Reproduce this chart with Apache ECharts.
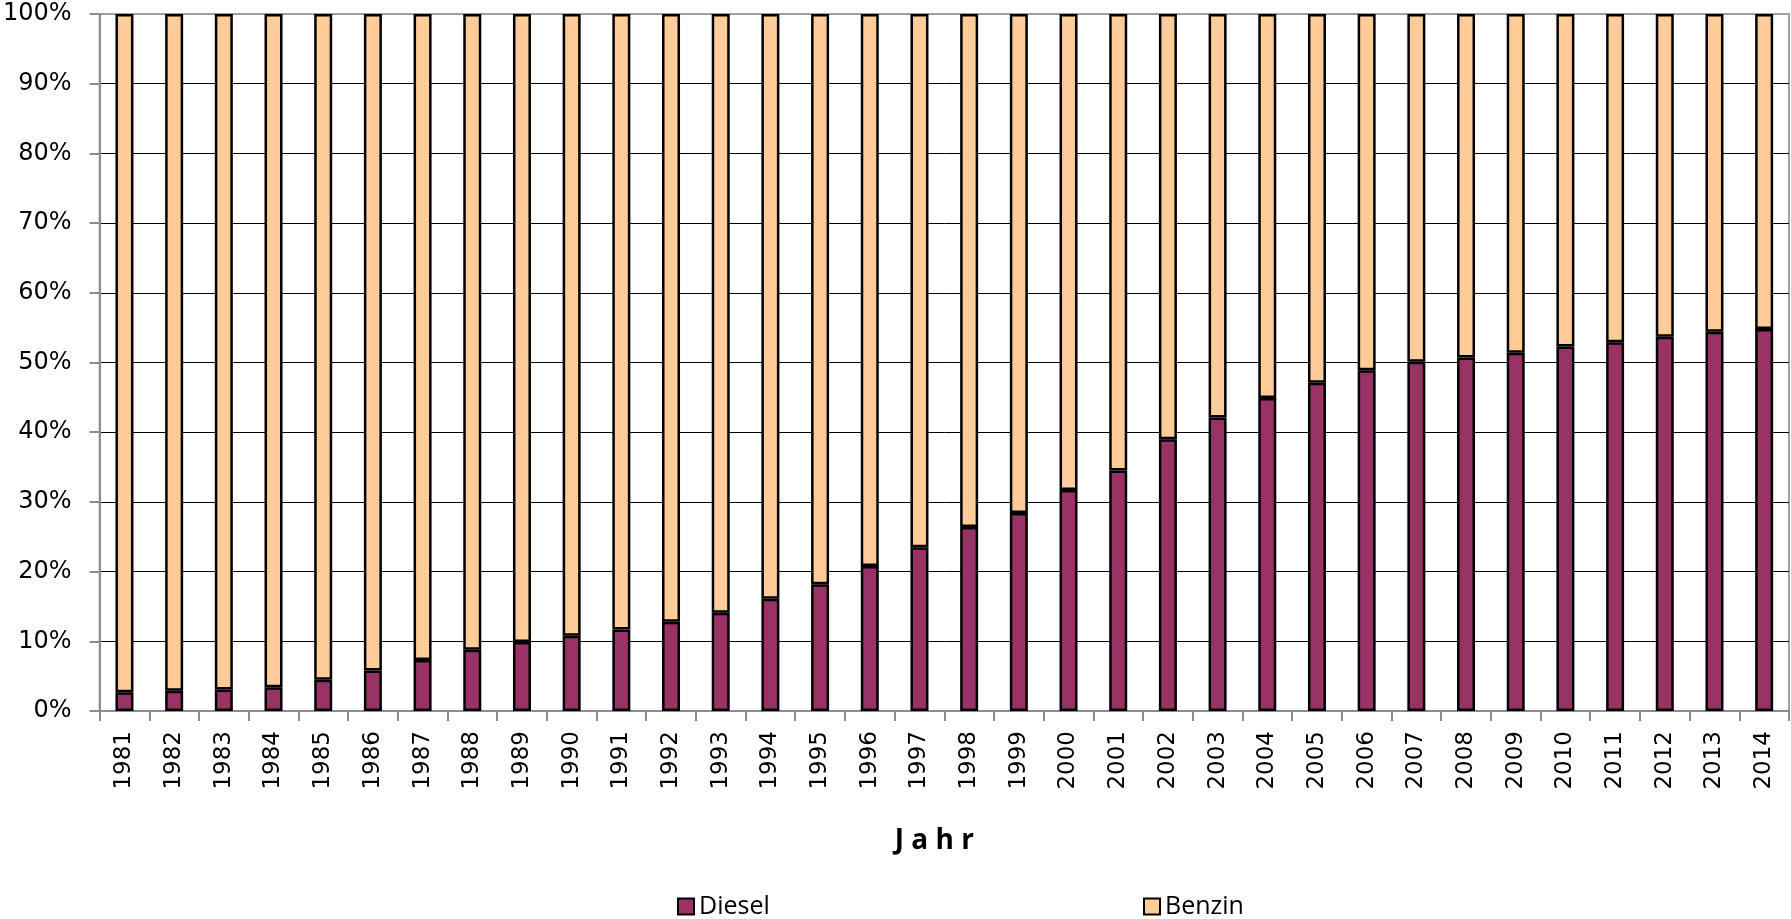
<!DOCTYPE html>
<html>
<head>
<meta charset="utf-8">
<script src="https://cdn.jsdelivr.net/npm/echarts@6/dist/echarts.min.js"></script>
<style>
html,body{margin:0;padding:0;background:#fff;}
#chart{width:1791px;height:919px;}
</style>
</head>
<body>
<div id="chart"></div>
<script>
var years = ['1981','1982','1983','1984','1985','1986','1987','1988','1989','1990','1991','1992','1993','1994','1995','1996','1997','1998','1999','2000','2001','2002','2003','2004','2005','2006','2007','2008','2009','2010','2011','2012','2013','2014'];
var diesel = [2.7,2.9,3.1,3.4,4.5,5.8,7.3,8.8,9.9,10.8,11.7,12.8,14.1,16.1,18.2,20.8,23.5,26.4,28.4,31.7,34.5,39.0,42.1,44.9,47.1,48.9,50.1,50.7,51.4,52.3,52.9,53.7,54.4,54.8];
var benzin = [97.3,97.1,96.9,96.6,95.5,94.2,92.7,91.2,90.1,89.2,88.3,87.2,85.9,83.9,81.8,79.2,76.5,73.6,71.6,68.3,65.5,61.0,57.9,55.1,52.9,51.1,49.9,49.3,48.6,47.7,47.1,46.3,45.6,45.2];
var yTicks = [0,10,20,30,40,50,60,70,80,90,100];

var chart = echarts.init(document.getElementById('chart'), null, {renderer:'canvas'});
var gridColors = yTicks.map(function(v){ return (v===100) ? '#a0a0a0' : '#000'; });
var axisGray = '#8c8c8c';
var legendText = {fontFamily:'Open Sans', fontSize:25, color:'#000'};
var option = {
  animation:false,
  backgroundColor:'#fff',
  grid:{left:99, right:2, top:14, bottom:208, show:true, borderColor:'#a0a0a0', borderWidth:2, containLabel:false},
  legend:[
    {data:['Diesel'], left:677, top:894, itemWidth:16, itemHeight:16, icon:'rect', itemGap:6,
     itemStyle:{borderColor:'#000', borderWidth:2}, textStyle:legendText, padding:0},
    {data:['Benzin'], left:1143, top:894, itemWidth:16, itemHeight:16, icon:'rect', itemGap:6,
     itemStyle:{borderColor:'#000', borderWidth:2}, textStyle:legendText, padding:0}
  ],
  xAxis:{
    type:'category', data:years, boundaryGap:true,
    name:'J a h r', nameLocation:'middle', nameGap:116,
    nameTextStyle:{fontFamily:'Open Sans', fontWeight:'bold', fontSize:28, color:'#000', padding:[0,20,0,0]},
    axisLine:{show:true, lineStyle:{color:axisGray, width:2}},
    axisTick:{show:true, alignWithLabel:false, length:10, lineStyle:{color:axisGray, width:2}},
    axisLabel:{rotate:90, margin:20, interval:0, fontFamily:'DejaVu Sans', fontSize:23, color:'#000'},
    splitLine:{show:false}
  },
  yAxis:{
    type:'value', min:0, max:100, interval:10,
    axisLine:{show:true, lineStyle:{color:axisGray, width:2}},
    axisTick:{show:true, length:10, lineStyle:{color:axisGray, width:2}},
    axisLabel:{margin:28, fontFamily:'DejaVu Sans', fontSize:24, color:'#000', formatter:'{value}%'},
    splitLine:{show:true, lineStyle:{color:gridColors, width:1}}
  },
  series:[
    {name:'Diesel', type:'bar', stack:'a', data:diesel, barWidth:18,
     itemStyle:{color:'#993366', borderColor:'#000', borderWidth:2.5}},
    {name:'Benzin', type:'bar', stack:'a', data:benzin, barWidth:18,
     itemStyle:{color:'#FFCC99', borderColor:'#000', borderWidth:2.5}}
  ]
};
chart.setOption(option);
</script>
</body>
</html>
